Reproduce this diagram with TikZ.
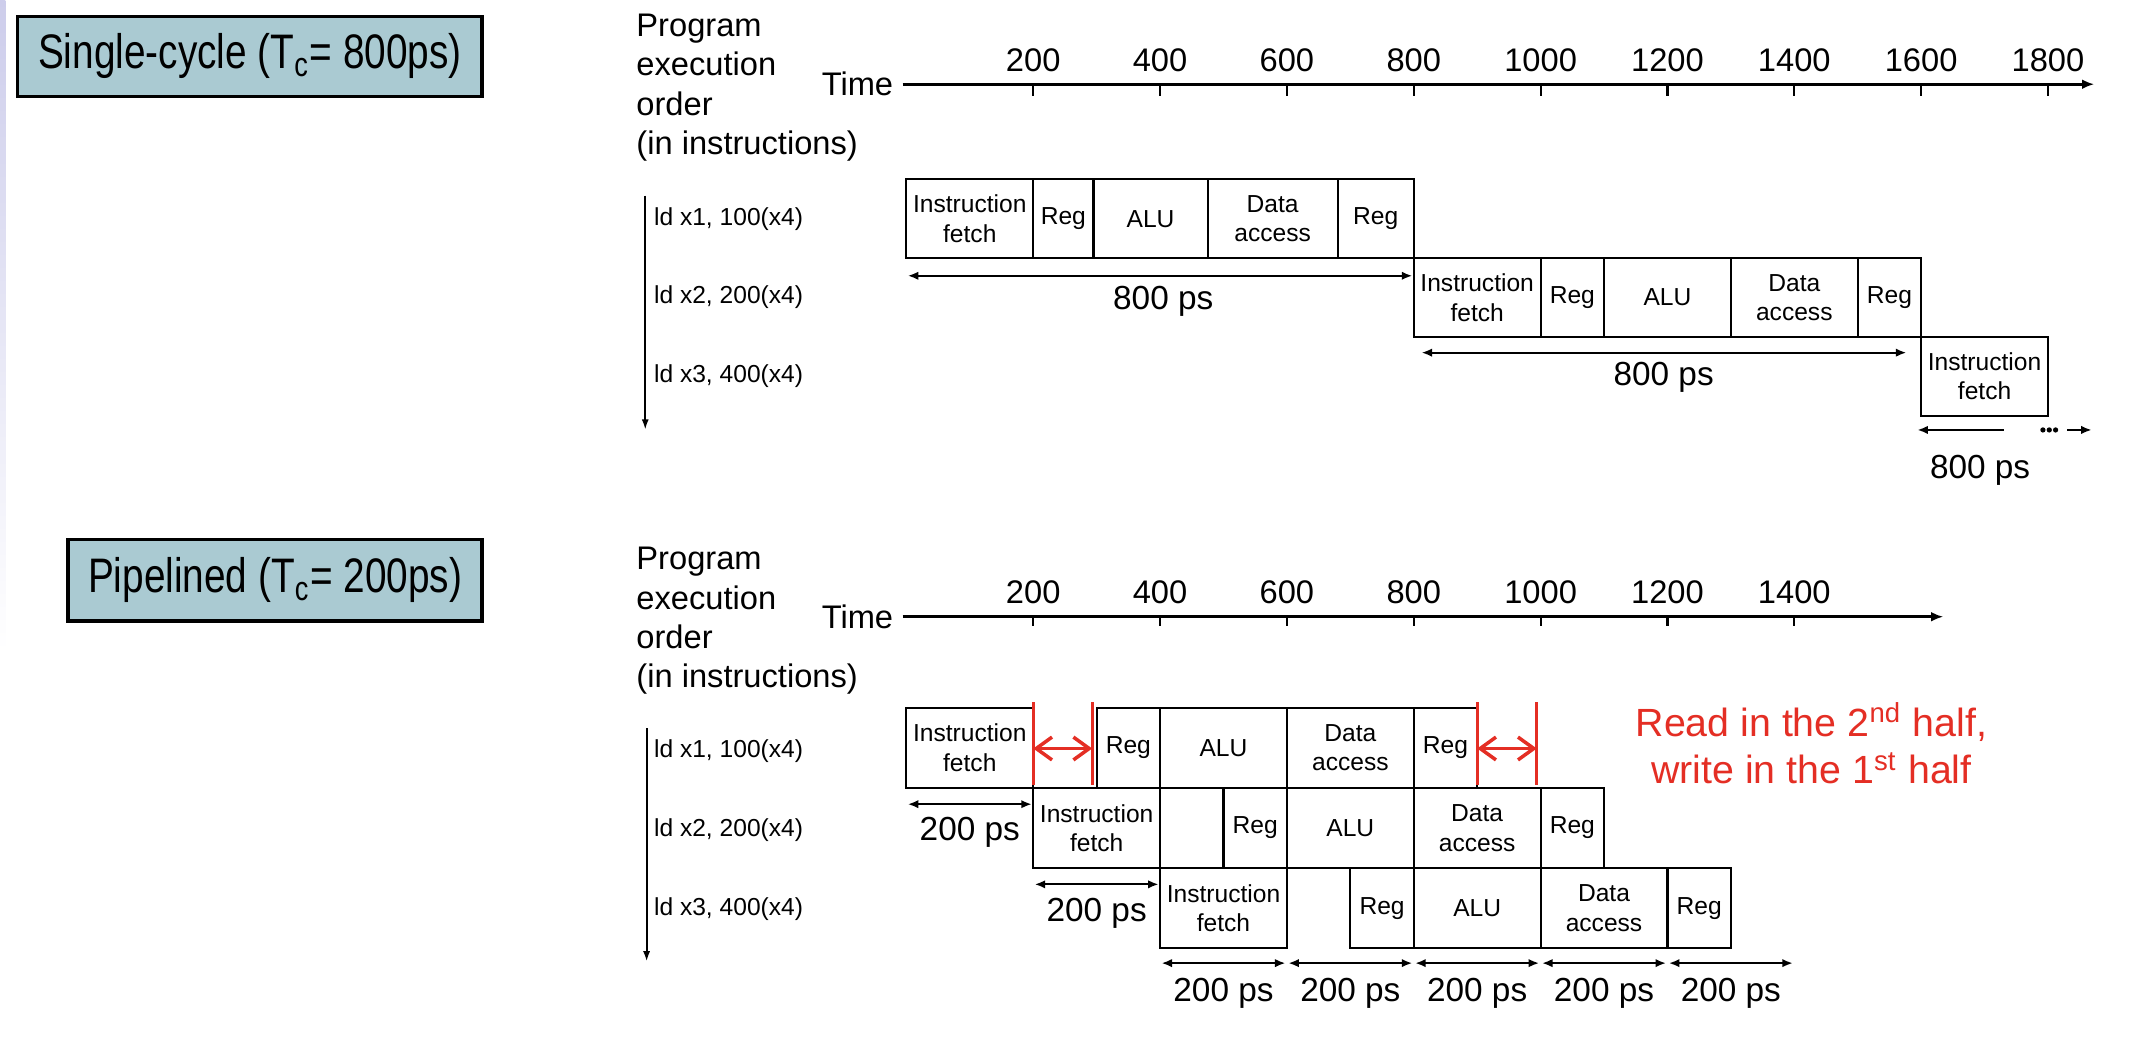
\documentclass[tikz,border=0pt]{standalone}
\usepackage{fontspec}
\setmainfont{Liberation Sans}
\newfontfamily\titlefont{Liberation Sans}[FakeStretch=0.8]
\usetikzlibrary{arrows.meta}

\definecolor{titlefill}{RGB}{170,202,210}
\definecolor{notered}{RGB}{228,46,36}
\definecolor{slidestrip}{RGB}{205,205,235}

\newcommand{\pxu}{0.0136cm}
\newcommand{\psu}{0.0063467cm}
% stage box: name, from, to (ps), top, bottom, text
\newcommand{\stagenode}[6]{\node[stagebox, minimum width={(#3-#2)*\psu}, minimum height={(#5-#4)*\pxu}] (#1) at ({(#2+#3)/2},{(#4+#5)/2}) {#6};}

\tikzset{
  titlebox/.style={draw=black, line width=1pt, fill=titlefill, inner sep=0pt,
    font=\titlefont\fontsize{13.8}{16}\selectfont},
  stagebox/.style={draw, line width=0.6pt, inner sep=0pt, align=center, font=\fontsize{7}{8.4}\selectfont},
  orderlabel/.style={align=left, inner sep=0pt, font=\fontsize{9.3}{11.2}\selectfont},
  instr/.style={inner sep=0pt, font=\fontsize{7}{8.4}\selectfont},
  ticklabel/.style={inner sep=0pt, font=\fontsize{9.3}{11}\selectfont},
  spanlabel/.style={inner sep=0pt, font=\fontsize{9.5}{11}\selectfont},
  tickmark/.style={line width=0.6pt},
  axis/.style={line width=0.8pt, -{Latex[length=3.5pt,width=2.8pt]}},
  seqarrow/.style={line width=0.6pt, -{Latex[length=3pt,width=2pt]}},
  span/.style={line width=0.6pt, {Latex[length=3pt,width=2.4pt]}-{Latex[length=3pt,width=2.4pt]}, shorten <=0.4pt, shorten >=0.4pt},
  spanleft/.style={line width=0.6pt, {Latex[length=3pt,width=2.4pt]}-},
  spanright/.style={line width=0.6pt, -{Latex[length=3pt,width=2.4pt]}},
  halfmark/.style={notered, line width=0.8pt},
  halfspan/.style={notered, line width=1pt, {Straight Barb[length=4.5pt,width=6.5pt]}-{Straight Barb[length=4.5pt,width=6.5pt]}},
  rednote/.style={notered, align=center, inner sep=0pt, font=\fontsize{11.2}{13.4}\selectfont},
}

\begin{document}
\begin{tikzpicture}[x=0.0136cm, y=-0.0136cm]
  \useasboundingbox (0,0) rectangle (1568,767);
  \shade[top color=slidestrip, bottom color=white] (0,0) rectangle (4,480);

  % titles
  \node[titlebox, minimum width=342*\pxu, minimum height=59*\pxu] (single) at (184,41.5) {Single-cycle (T\textsubscript{c}= 800ps)};
  \node[titlebox, minimum width=305*\pxu, minimum height=60*\pxu] (piped) at (202.5,427) {Pipelined (T\textsubscript{c}= 200ps)};

  % left labels
  \node[orderlabel, anchor=north west] (order1) at (468,9.8) {Program\\execution\\order\\(in instructions)};
  \node[orderlabel, anchor=north west] (order2) at (468,402.4) {Program\\execution\\order\\(in instructions)};
  \node[ticklabel, anchor=east] (time1) at (658,62) {Time};
  \node[ticklabel, anchor=east] (time2) at (658,454) {Time};

  \node[instr, anchor=west] (lda1) at (481,161) {ld x1, 100(x4)};
  \node[instr, anchor=west] (lda2) at (481,219) {ld x2, 200(x4)};
  \node[instr, anchor=west] (lda3) at (481,277) {ld x3, 400(x4)};
  \node[instr, anchor=west] (ldb1) at (481,553) {ld x1, 100(x4)};
  \node[instr, anchor=west] (ldb2) at (481,611) {ld x2, 200(x4)};
  \node[instr, anchor=west] (ldb3) at (481,669) {ld x3, 400(x4)};

  \coordinate (seqa) at (475,144);
  \coordinate (seqaend) at (475,316.5);
  \coordinate (seqb) at (476,536);
  \coordinate (seqbend) at (476,708);
  \draw[seqarrow] (seqa) -- (seqaend);
  \draw[seqarrow] (seqb) -- (seqbend);

  \begin{scope}[xshift=9.0712cm, x=\psu]
    % single-cycle time axis
    \coordinate (axisaend) at (1873,62);
    \draw[axis] ([xshift=2.5pt]time1.east) -- (axisaend);
    \foreach \t in {200,400,...,1800} {
      \draw[tickmark] (\t,62) -- (\t,70.7);
      \node[ticklabel] (tka\t) at (\t,44) {\t};
    }

    % single-cycle stages
    \stagenode{sa1}{0}{200}{132}{190}{Instruction\\fetch}
    \stagenode{sa2}{200}{295}{132}{190}{Reg}
    \stagenode{sa3}{295}{475}{132}{190}{ALU}
    \stagenode{sa4}{475}{680}{132}{190}{Data\\access}
    \stagenode{sa5}{680}{800}{132}{190}{Reg}
    \stagenode{sb1}{800}{1000}{190}{248}{Instruction\\fetch}
    \stagenode{sb2}{1000}{1100}{190}{248}{Reg}
    \stagenode{sb3}{1100}{1300}{190}{248}{ALU}
    \stagenode{sb4}{1300}{1500}{190}{248}{Data\\access}
    \stagenode{sb5}{1500}{1600}{190}{248}{Reg}
    \stagenode{sc1}{1600}{1800}{248}{306}{Instruction\\fetch}

    \coordinate (spa1) at (0,203);
    \coordinate (spa2) at (800,203);
    \draw[span] (spa1) -- (spa2);
    \node[spanlabel] (spalabel) at (405,222) {800 ps};
    \coordinate (spb1) at (810,259.6);
    \coordinate (spb2) at (1579,259.6);
    \draw[span] (spb1) -- (spb2);
    \node[spanlabel] (spblabel) at (1194,278) {800 ps};
    \coordinate (spc1) at (1594,316.5);
    \coordinate (spc2) at (1731,316.5);
    \coordinate (spc3) at (1830,316.5);
    \coordinate (spc4) at (1869,316.5);
    \draw[spanleft] (spc1) -- (spc2);
    \foreach \d in {1792,1802,1812}
      \fill (\d,316.5) circle (0.75pt);
    \draw[spanright] (spc3) -- (spc4);
    \node[spanlabel] (spclabel) at (1693,346) {800 ps};

    % pipelined time axis
    \coordinate (axisbend) at (1635,454);
    \draw[axis] ([xshift=2.5pt]time2.east) -- (axisbend);
    \foreach \t in {200,400,...,1400} {
      \draw[tickmark] (\t,454) -- (\t,461);
      \node[ticklabel] (tkb\t) at (\t,436) {\t};
    }

    % pipelined stages
    \stagenode{pa1}{0}{200}{521}{580}{Instruction\\fetch}
    \stagenode{pa2}{300}{400}{521}{580}{Reg}
    \stagenode{pa3}{400}{600}{521}{580}{ALU}
    \stagenode{pa4}{600}{800}{521}{580}{Data\\access}
    \stagenode{pa5}{800}{900}{521}{580}{Reg}
    \stagenode{pb1}{200}{400}{580}{639}{Instruction\\fetch}
    \stagenode{pb2}{500}{600}{580}{639}{Reg}
    \stagenode{pb3}{600}{800}{580}{639}{ALU}
    \stagenode{pb4}{800}{1000}{580}{639}{Data\\access}
    \stagenode{pb5}{1000}{1100}{580}{639}{Reg}
    \stagenode{pc1}{400}{600}{639}{698}{Instruction\\fetch}
    \stagenode{pc2}{700}{800}{639}{698}{Reg}
    \stagenode{pc3}{800}{1000}{639}{698}{ALU}
    \stagenode{pc4}{1000}{1200}{639}{698}{Data\\access}
    \stagenode{pc5}{1200}{1300}{639}{698}{Reg}

    \coordinate (ppa1) at (0,592);
    \coordinate (ppa2) at (200,592);
    \draw[span] (ppa1) -- (ppa2);
    \node[spanlabel] (ppalabel) at (100,613) {200 ps};
    \coordinate (ppb1) at (200,651);
    \coordinate (ppb2) at (400,651);
    \draw[span] (ppb1) -- (ppb2);
    \node[spanlabel] (ppblabel) at (300,672) {200 ps};
    \foreach \t [count=\i] in {400,600,...,1200} {
      \coordinate (ppc\i l) at (\t,709);
      \coordinate (ppc\i r) at (\t+200,709);
      \draw[span] (ppc\i l) -- (ppc\i r);
      \node[spanlabel] (ppc\i label) at (\t+100,731) {200 ps};
    }

    % register file halves
    \foreach \t [count=\i] in {200,293,900,994} {
      \coordinate (hm\i t) at (\t,517);
      \coordinate (hm\i b) at (\t,578);
      \draw[halfmark] (hm\i t) -- (hm\i b);
    }
    \coordinate (hsa1) at (200,551);
    \coordinate (hsa2) at (293,551);
    \coordinate (hsb1) at (900,551);
    \coordinate (hsb2) at (994,551);
    \draw[halfspan] (hsa1) -- (hsa2);
    \draw[halfspan] (hsb1) -- (hsb2);
    \node[rednote, anchor=north] (rwnote) at (1427,517) {Read in the 2\textsuperscript{nd} half,\\write in the 1\textsuperscript{st} half};
  \end{scope}
\end{tikzpicture}
\end{document}
